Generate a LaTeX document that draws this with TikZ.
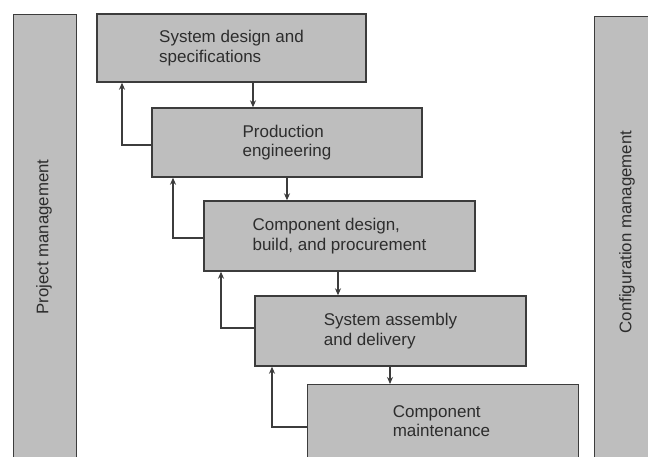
\documentclass[tikz,border=0pt]{standalone}
\usepackage{fontspec}
\setmainfont{Liberation Sans}
\usetikzlibrary{arrows.meta}
\definecolor{boxfill}{RGB}{190,190,190}
\definecolor{boxline}{RGB}{60,60,60}
\definecolor{txt}{RGB}{45,45,45}
\begin{document}
\begin{tikzpicture}[x=1pt,y=-1pt,
  stage/.style={draw=boxline,fill=boxfill,line width=1.4pt,inner sep=0pt,
    text=txt,font=\fontsize{17}{19.5}\selectfont,align=left},
  bar/.style={draw=boxline,fill=boxfill,line width=1.4pt,inner sep=0pt},
  barlabel/.style={text=txt,font=\fontsize{16.8}{19}\selectfont,rotate=90},
  arr/.style={draw=boxline,line width=1.2pt,-{Stealth[length=7pt,width=6pt]}}]
\useasboundingbox (0,0) rectangle (648,456);
\clip (0,0) rectangle (648,456);
\fill[white] (0,0) rectangle (648,456);
% side bars
\node[bar,minimum width=63pt,minimum height=460pt,anchor=north west] (pm) at (13,14) {};
\node[barlabel] (pml) at (44,237) {Project management};
\node[bar,minimum width=70pt,minimum height=460pt,anchor=north west] (cm) at (594,16) {};
\node[barlabel] (cml) at (627,232) {Configuration management};
% stages
\node[stage,minimum width=269pt,minimum height=68pt] (b1) at (231.5,48) {System design and\\specifications};
\node[stage,minimum width=270pt,minimum height=69pt] (b2) at (287,142.5) {Production\\engineering};
\node[stage,minimum width=271pt,minimum height=70pt] (b3) at (339.5,236) {Component design,\\build, and procurement};
\node[stage,minimum width=271pt,minimum height=70pt] (b4) at (390.5,331) {System assembly\\and delivery};
\node[stage,minimum width=271pt,minimum height=90pt,anchor=north west] (b5) at (307,384) {};
\node[text=txt,font=\fontsize{17}{19.5}\selectfont,align=left] (b5t) at (441.5,421) {Component\\maintenance};
% helper coordinates
\coordinate (d1) at (253,0);
\coordinate (d2) at (287,0);
\coordinate (d3) at (338,0);
\coordinate (d4) at (390,0);
\coordinate (u1) at (122,145);
\coordinate (u2) at (173,238);
\coordinate (u3) at (221,328);
\coordinate (u4) at (272,427);
% downward flow
\draw[arr] (b1.south -| d1) -- (b2.north -| d1);
\draw[arr] (b2.south -| d2) -- (b3.north -| d2);
\draw[arr] (b3.south -| d3) -- (b4.north -| d3);
\draw[arr] (b4.south -| d4) -- (b5.north -| d4);
% feedback
\draw[arr] (b2.west |- u1) -- (u1) -- (b1.south -| u1);
\draw[arr] (b3.west |- u2) -- (u2) -- (b2.south -| u2);
\draw[arr] (b4.west |- u3) -- (u3) -- (b3.south -| u3);
\draw[arr] (b5.west |- u4) -- (u4) -- (b4.south -| u4);
\end{tikzpicture}
\end{document}
